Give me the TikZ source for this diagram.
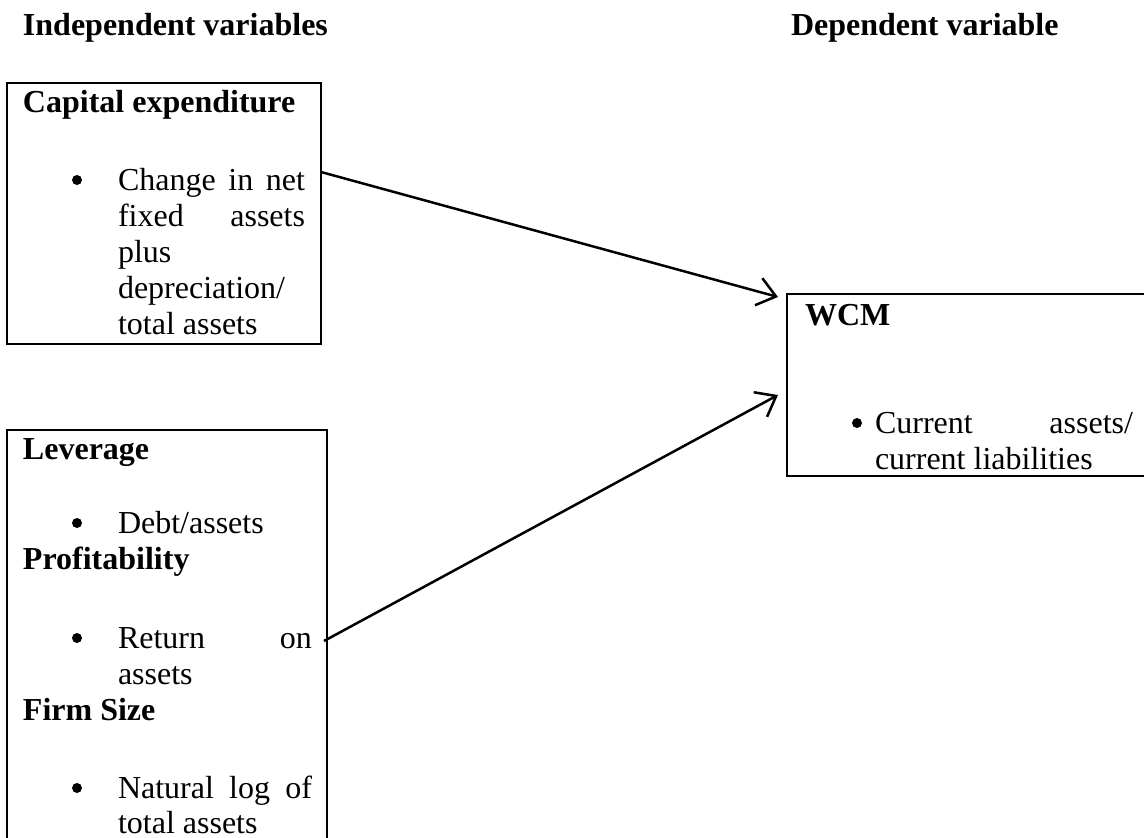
\documentclass[tikz,border=0pt]{standalone}
\usepackage{fontspec}
\setmainfont{Liberation Serif}
\usetikzlibrary{arrows.meta,calc}
\begin{document}
\begin{tikzpicture}[x=1pt,y=-1pt,
  txt/.style={anchor=base west, inner sep=0pt, outer sep=0pt, font=\fontsize{32}{36}\selectfont},
  hd/.style={anchor=base west, inner sep=0pt, outer sep=0pt, font=\fontsize{32}{36}\selectfont\bfseries},
  dot/.style={circle, fill=black, inner sep=0pt, minimum size=10pt},
  frame/.style={draw, line width=2.5pt, anchor=north west, inner sep=0pt, outer sep=0pt},
  link/.style={line width=2.5pt, -{Straight Barb[length=18pt,width=28pt,line width=2.5pt]}}]
\useasboundingbox (0,0) rectangle (1144,838);
\clip (0,0) rectangle (1144,838);
% headings
\node[hd] (h1) at (23,35) {Independent variables};
\node[hd] (h2) at (791,35) {Dependent variable};
% boxes
\node[frame, minimum width=314pt, minimum height=261pt] (box1) at (7,83) {};
\node[frame, minimum width=320pt, minimum height=440pt] (box2) at (7,430) {};
\node[frame, minimum width=383pt, minimum height=182pt] (wcm) at (787,294) {};
% box 1 text
\node[hd] (t1) at (23,112) {Capital expenditure};
\node[dot] (b1) at (77,180) {};
\node[txt] (l11) at (118,190) {\makebox[187pt][s]{Change in net}};
\node[txt] (l12) at (118,226) {\makebox[187pt][s]{fixed assets}};
\node[txt] (l13) at (118,262) {plus};
\node[txt] (l14) at (118,298) {depreciation/};
\node[txt] (l15) at (118,334) {total assets};
% box 2 text
\node[hd] (t2) at (23,459) {Leverage};
\node[dot] (b2) at (77,523) {};
\node[txt] (l21) at (118,533) {Debt/assets};
\node[hd] (t3) at (23,569) {Profitability};
\node[dot] (b3) at (77,638) {};
\node[txt] (l31) at (118,648) {\makebox[194pt][s]{Return on}};
\node[txt] (l32) at (118,684) {assets};
\node[hd] (t4) at (23,720) {Firm Size};
\node[dot] (b4) at (77,788) {};
\node[txt] (l41) at (118,798) {\makebox[194pt][s]{Natural log of}};
\node[txt] (l42) at (118,833) {total assets};
% WCM text
\node[hd] (t5) at (805,325) {WCM};
\node[dot] (b5) at (857,423) {};
\node[txt] (l51) at (875,433) {\makebox[258pt][s]{Current assets/}};
\node[txt] (l52) at (875,469) {current liabilities};
% connectors
\coordinate (s1) at ($(box1.north east)+(0,89)$);
\coordinate (e1) at ($(wcm.north west)+(-9,3)$);
\coordinate (s2) at ($(box2.north east)+(-3,211)$);
\coordinate (e2) at ($(wcm.north west)+(-9,101)$);
\draw[link] (s1) -- (e1);
\draw[link] (s2) -- (e2);
\end{tikzpicture}
\end{document}
